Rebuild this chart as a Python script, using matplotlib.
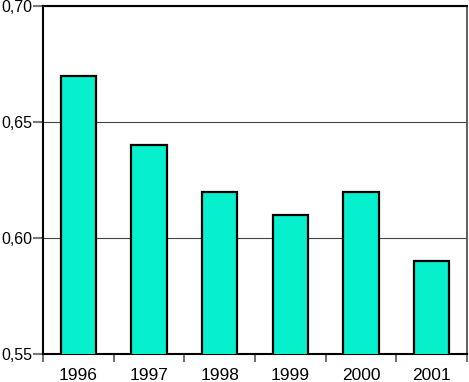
import numpy as np
import matplotlib.pyplot as plt
from matplotlib.ticker import FuncFormatter, FixedLocator

years = ["1996", "1997", "1998", "1999", "2000", "2001"]
values = [0.67, 0.64, 0.62, 0.61, 0.62, 0.59]
yticks = [0.55, 0.60, 0.65, 0.70]

plt.rcParams['font.family'] = ['Liberation Sans', 'DejaVu Sans']

fig = plt.figure(figsize=(4.69, 3.82), dpi=100)
ax = fig.add_axes([43 / 469, 28 / 382, 424 / 469, 348 / 382])

x = np.arange(len(years))
ax.bar(x, values, width=0.5, color='#07F0CE', edgecolor='black', linewidth=1.6, zorder=3)

ax.set_xlim(-0.5, len(years) - 0.5)
ax.set_ylim(0.55, 0.70)
ax.set_yticks(yticks)
ax.yaxis.set_major_formatter(FuncFormatter(lambda v, p: f"{v:.2f}".replace('.', ',')))
ax.grid(axis='y', color='#444444', linewidth=0.8, zorder=0)

# category labels without marks, marks on the boundaries
ax.set_xticks(x)
ax.set_xticklabels(years)
ax.tick_params(axis='x', which='major', length=0, pad=10, labelsize=12.5)
ax.xaxis.set_minor_locator(FixedLocator(np.arange(-0.5, len(years), 1.0)))
ax.tick_params(axis='x', which='minor', length=6, width=1.2, color='#555555', direction='out')
ax.tick_params(axis='y', length=7, width=1.5, color='#777777', labelsize=11.5, pad=0.5)

for side in ['left', 'top', 'bottom']:
    ax.spines[side].set_color('black')
    ax.spines[side].set_linewidth(1.5)
ax.spines['right'].set_color('#444444')
ax.spines['right'].set_linewidth(1.2)

fig.savefig("out.png", dpi=100)
